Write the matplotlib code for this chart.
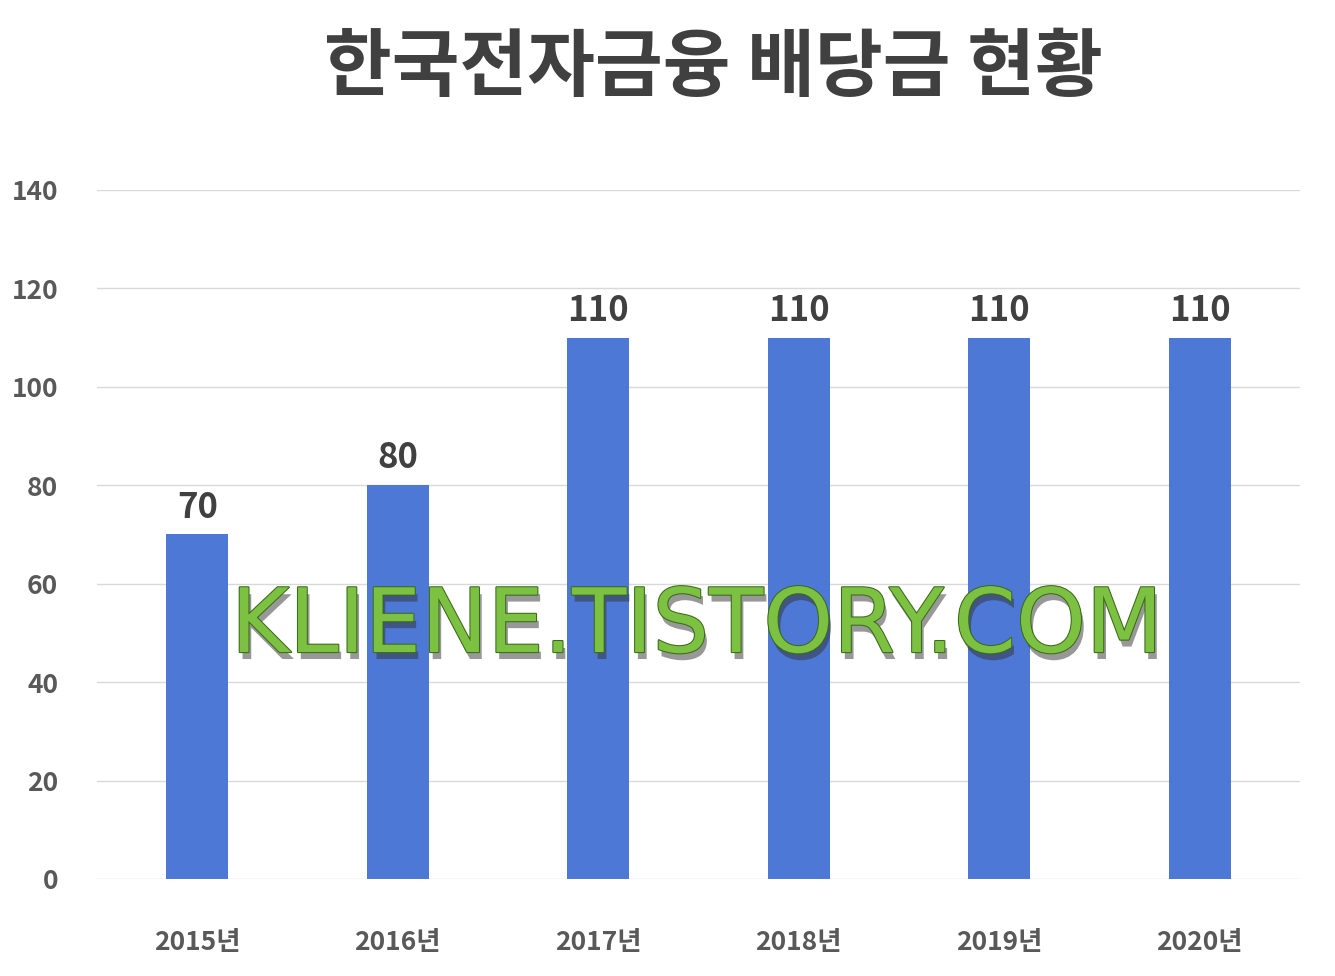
import matplotlib.pyplot as plt
import matplotlib.patheffects as pe

plt.rcParams['font.family'] = ['Noto Sans CJK KR', 'DejaVu Sans']

years = ['2015년', '2016년', '2017년', '2018년', '2019년', '2020년']
dividends = [70, 80, 110, 110, 110, 110]

fig = plt.figure(figsize=(13.35, 9.76), dpi=100)
ax = fig.add_axes([0.0727, 0.0994, 0.901, 0.706])

x = range(len(years))
bars = ax.bar(x, dividends, width=0.31, color='#4E78D6', zorder=2)
for b, v in zip(bars, dividends):
    ax.text(b.get_x() + b.get_width() / 2, v + 2, str(v), ha='center', va='bottom',
            fontsize=25, fontweight='bold', color='#404040')

ax.set_xlim(-0.5, 5.5)
ax.set_ylim(0, 140)
ax.set_yticks(range(0, 141, 20))
ax.set_xticks(list(x))
ax.set_xticklabels(years)
ax.grid(axis='y', color='#D9D9D9', linewidth=1, zorder=0)
for s in ax.spines.values():
    s.set_visible(False)
ax.tick_params(length=0, labelsize=19, labelcolor='#595959')
ax.tick_params(axis='x', pad=36)
ax.tick_params(axis='y', pad=28)
for t in ax.get_xticklabels() + ax.get_yticklabels():
    t.set_fontweight('bold')

fig.text(0.534, 0.93, '한국전자금융 배당금 현황', ha='center', va='center',
         fontsize=53, fontweight='bold', color='#404040')

fig.text(0.522, 0.357, 'KLIENE.TISTORY.COM', ha='center', va='center',
         fontsize=64, color='#7DC142', family='DejaVu Sans',
         path_effects=[pe.withSimplePatchShadow(offset=(2, -5), shadow_rgbFace='#333333', alpha=0.5),
                       pe.Stroke(linewidth=1.5, foreground='#3A6A1A'), pe.Normal()])

fig.savefig('out.png')
